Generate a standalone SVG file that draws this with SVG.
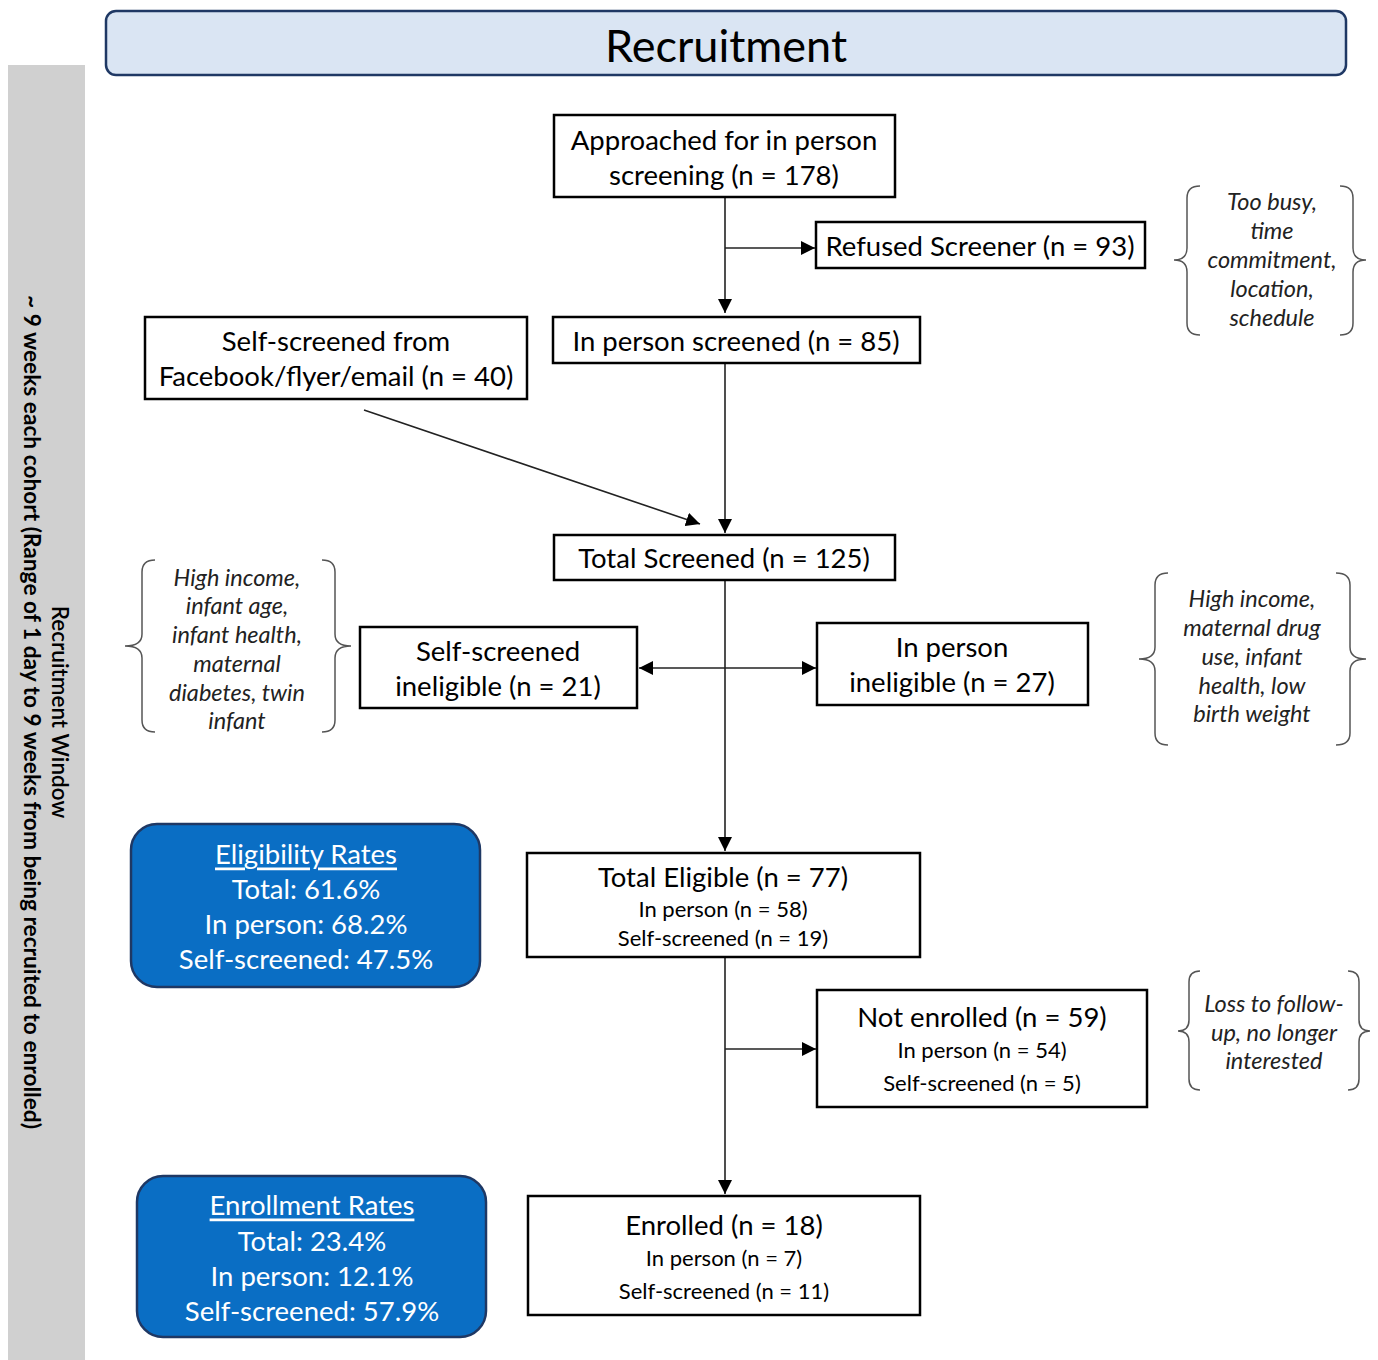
<svg xmlns="http://www.w3.org/2000/svg" width="1378" height="1360" viewBox="0 0 1378 1360">
<style>
text{font-family:Lato,"Liberation Sans",sans-serif;fill:#000;text-anchor:middle;dominant-baseline:central}
.box{fill:#fff;stroke:#000;stroke-width:2.5}
.t{font-size:27.5px}
.s{font-size:22px}
.it{font-size:23.5px;font-style:italic;fill:#222}
.blue{fill:#0a6ec4;stroke:#1f3864;stroke-width:2.5}
.w{fill:#fff;font-size:27.5px}
.br{fill:none;stroke:#555;stroke-width:1.5}
.c{fill:none;stroke:#222;stroke-width:1.6}
</style>
<defs>
<marker id="ah" viewBox="0 0 10 10" refX="10" refY="5" markerWidth="14" markerHeight="14" markerUnits="userSpaceOnUse" orient="auto-start-reverse">
<path d="M0,0 L10,5 L0,10 z" fill="#000"/>
</marker>
</defs>

<g id="window">
<rect x="8" y="65" width="77" height="1295" fill="#d0d0d0"/>
<text transform="translate(60,712) rotate(90)" style="font-size:22.5px;font-weight:600">Recruitment Window</text>
<text transform="translate(32,712) rotate(90)" style="font-size:22.7px;font-weight:700">~ 9 weeks each cohort (Range of 1 day to 9 weeks from being recruited to enrolled)</text>
</g>

<g id="title">
<rect x="106" y="11" width="1240" height="64" rx="10" fill="#dae5f3" stroke="#1f3864" stroke-width="2.5"/>
<text x="726" y="45" style="font-size:45px">Recruitment</text>
</g>

<g id="connectors">
<line class="c" x1="725" y1="197" x2="725" y2="313" marker-end="url(#ah)"/>
<line class="c" x1="725" y1="248" x2="815" y2="248" marker-end="url(#ah)"/>
<line class="c" x1="725" y1="363" x2="725" y2="533" marker-end="url(#ah)"/>
<line class="c" x1="364" y1="410" x2="700" y2="524" marker-end="url(#ah)"/>
<line class="c" x1="725" y1="580" x2="725" y2="851" marker-end="url(#ah)"/>
<line class="c" x1="639" y1="668" x2="816" y2="668" marker-start="url(#ah)" marker-end="url(#ah)"/>
<line class="c" x1="725" y1="957" x2="725" y2="1194" marker-end="url(#ah)"/>
<line class="c" x1="725" y1="1049" x2="816" y2="1049" marker-end="url(#ah)"/>
</g>

<g id="approached">
<rect class="box" x="554" y="115" width="341" height="82"/>
<text class="t" x="724" y="139">Approached for in person</text>
<text class="t" x="724" y="174">screening (n = 178)</text>
</g>

<g id="refused">
<rect class="box" x="816" y="222" width="329" height="46"/>
<text class="t" x="980" y="245">Refused Screener (n = 93)</text>
</g>

<g id="reasons-refused">
<path class="br" d="M1200,186 Q1187,186 1187,198 L1187,248 Q1187,260 1174,260 Q1187,260 1187,272 L1187,323 Q1187,335 1200,335"/>
<path class="br" d="M1340,186 Q1353,186 1353,198 L1353,248 Q1353,260 1366,260 Q1353,260 1353,272 L1353,323 Q1353,335 1340,335"/>
<text class="it" x="1272" y="201">Too busy,</text>
<text class="it" x="1272" y="230">time</text>
<text class="it" x="1272" y="259">commitment,</text>
<text class="it" x="1272" y="288">location,</text>
<text class="it" x="1272" y="317">schedule</text>
</g>

<g id="inperson-screened">
<rect class="box" x="553" y="317" width="367" height="46"/>
<text class="t" x="736" y="340">In person screened  (n = 85)</text>
</g>

<g id="self-screened">
<rect class="box" x="145" y="317" width="382" height="82"/>
<text class="t" x="336" y="340">Self-screened from</text>
<text class="t" x="336" y="375">Facebook/flyer/email (n = 40)</text>
</g>

<g id="total-screened">
<rect class="box" x="554" y="535" width="341" height="45"/>
<text class="t" x="724" y="557">Total Screened (n = 125)</text>
</g>

<g id="self-ineligible">
<rect class="box" x="360" y="627" width="277" height="81"/>
<text class="t" x="498" y="650">Self-screened</text>
<text class="t" x="498" y="685">ineligible (n = 21)</text>
</g>

<g id="reasons-self">
<path class="br" d="M155,560 Q142,560 142,572 L142,634 Q142,646 125,646 Q142,646 142,658 L142,720 Q142,732 155,732"/>
<path class="br" d="M322,560 Q335,560 335,572 L335,634 Q335,646 351,646 Q335,646 335,658 L335,720 Q335,732 322,732"/>
<text class="it" x="237" y="577">High income,</text>
<text class="it" x="237" y="605">infant age,</text>
<text class="it" x="237" y="634">infant health,</text>
<text class="it" x="237" y="663">maternal</text>
<text class="it" x="237" y="692">diabetes, twin</text>
<text class="it" x="237" y="720">infant</text>
</g>

<g id="inperson-ineligible">
<rect class="box" x="817" y="623" width="271" height="82"/>
<text class="t" x="952" y="646">In person</text>
<text class="t" x="952" y="681">ineligible  (n = 27)</text>
</g>

<g id="reasons-inperson">
<path class="br" d="M1168,573 Q1155,573 1155,585 L1155,647 Q1155,659 1139,659 Q1155,659 1155,671 L1155,733 Q1155,745 1168,745"/>
<path class="br" d="M1336,573 Q1350,573 1350,585 L1350,647 Q1350,659 1366,659 Q1350,659 1350,671 L1350,733 Q1350,745 1336,745"/>
<text class="it" x="1252" y="598">High income,</text>
<text class="it" x="1252" y="627">maternal drug</text>
<text class="it" x="1252" y="656">use, infant</text>
<text class="it" x="1252" y="685">health, low</text>
<text class="it" x="1252" y="713">birth weight</text>
</g>

<g id="eligibility-rates">
<rect class="blue" x="131" y="824" width="349" height="163" rx="26"/>
<text class="w" x="306" y="853" text-decoration="underline">Eligibility Rates</text>
<text class="w" x="306" y="888">Total: 61.6%</text>
<text class="w" x="306" y="923">In person: 68.2%</text>
<text class="w" x="306" y="958">Self-screened: 47.5%</text>
</g>

<g id="total-eligible">
<rect class="box" x="527" y="853" width="393" height="104"/>
<text class="t" x="723" y="876">Total Eligible (n = 77)</text>
<text class="s" x="723" y="908">In person (n = 58)</text>
<text class="s" x="723" y="937">Self-screened (n = 19)</text>
</g>

<g id="not-enrolled">
<rect class="box" x="817" y="990" width="330" height="117"/>
<text class="t" x="982" y="1016">Not enrolled (n = 59)</text>
<text class="s" x="982" y="1049">In person (n = 54)</text>
<text class="s" x="982" y="1082">Self-screened (n = 5)</text>
</g>

<g id="reasons-notenrolled">
<path class="br" d="M1200,971 Q1189,971 1189,982 L1189,1020 Q1189,1031 1178,1031 Q1189,1031 1189,1042 L1189,1079 Q1189,1090 1200,1090"/>
<path class="br" d="M1348,971 Q1359,971 1359,982 L1359,1020 Q1359,1031 1370,1031 Q1359,1031 1359,1042 L1359,1079 Q1359,1090 1348,1090"/>
<text class="it" x="1274" y="1003">Loss to follow-</text>
<text class="it" x="1274" y="1032">up, no longer</text>
<text class="it" x="1274" y="1060">interested</text>
</g>

<g id="enrollment-rates">
<rect class="blue" x="137" y="1176" width="349" height="161" rx="26"/>
<text class="w" x="312" y="1204" text-decoration="underline">Enrollment Rates</text>
<text class="w" x="312" y="1240">Total: 23.4%</text>
<text class="w" x="312" y="1275">In person: 12.1%</text>
<text class="w" x="312" y="1310">Self-screened: 57.9%</text>
</g>

<g id="enrolled">
<rect class="box" x="528" y="1196" width="392" height="119"/>
<text class="t" x="724" y="1224">Enrolled (n = 18)</text>
<text class="s" x="724" y="1257">In person (n = 7)</text>
<text class="s" x="724" y="1290">Self-screened (n = 11)</text>
</g>
</svg>
